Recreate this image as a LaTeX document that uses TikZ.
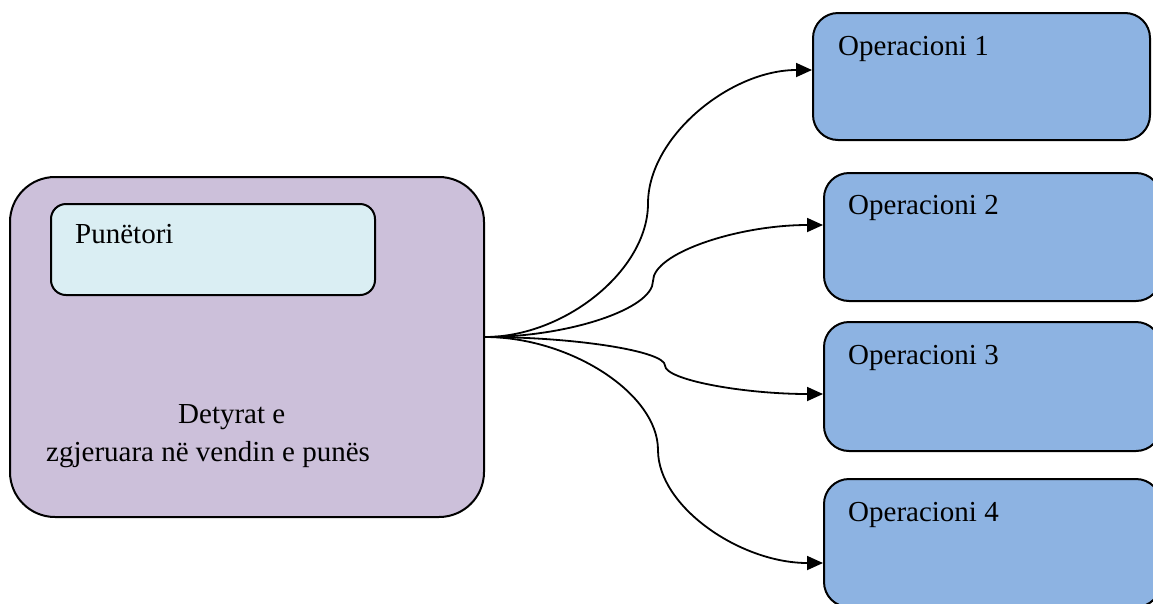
\documentclass[tikz,border=0pt]{standalone}
\usepackage{fontspec}
\setmainfont{Liberation Serif}
\usetikzlibrary{arrows.meta,calc}

\definecolor{taskfill}{HTML}{CCC0DA}
\definecolor{workerfill}{HTML}{DAEEF3}
\definecolor{opfill}{HTML}{8DB3E2}

\tikzset{
  box/.style={draw=black, line width=2pt, rounded corners=#1, inner sep=0pt, anchor=north west},
  taskbox/.style={box=45pt, fill=taskfill, minimum width=474pt, minimum height=340pt},
  workerbox/.style={box=15pt, fill=workerfill, minimum width=324pt, minimum height=91pt},
  opbox/.style={box=25pt, fill=opfill, minimum width=337pt, minimum height=128pt},
  txt/.style={anchor=base west, inner sep=0pt, font=\fontsize{29}{35}\selectfont},
  conn/.style={draw=black, line width=1.8pt, -{Triangle[length=16pt,width=14pt]}}
}

\begin{document}
\begin{tikzpicture}[x=1pt, y=-1pt]
  \useasboundingbox (0,0) rectangle (1153,603);
  \clip (0,0) rectangle (1153,603);

  % left block: the worker inside the enlarged job
  \node[taskbox] (task) at (9,176) {};
  \node[workerbox] (worker) at (50,203) {};
  \node[txt] (workerlbl) at (75,243) {Punëtori};
  \node[txt] (tasklbl1) at (178,423) {Detyrat e};
  \node[txt] (tasklbl2) at (46,461) {zgjeruara në vendin e punës};

  % operations
  \node[opbox, minimum height=127pt] (op1) at (812,12) {};
  \node[opbox] (op2) at (823,172) {};
  \node[opbox, minimum height=129pt] (op3) at (823,321) {};
  \node[opbox] (op4) at (823,478) {};
  \node[txt] (op1lbl) at (838,55) {Operacioni 1};
  \node[txt] (op2lbl) at (848,214) {Operacioni 2};
  \node[txt] (op3lbl) at (848,364) {Operacioni 3};
  \node[txt] (op4lbl) at (848,521) {Operacioni 4};

  % connector ends
  \coordinate (src) at ($(task.north east)+(0,161)$);
  \coordinate (t1) at ($(op1.north west)+(0,58)$);
  \coordinate (t2) at ($(op2.north west)+(0,53)$);
  \coordinate (t3) at ($(op3.north west)+(0,73)$);
  \coordinate (t4) at ($(op4.north west)+(0,85)$);

  % curved connectors
  \draw[conn] (src) .. controls (565,337) and (648,270) .. (648,203.5)
                    .. controls (648,137) and (730,70) .. (t1);
  \draw[conn] (src) .. controls (568,337) and (653,309) .. (653,281)
                    .. controls (653,253) and (738,225) .. (t2);
  \draw[conn] (src) .. controls (574,337) and (665,351) .. (665,365.5)
                    .. controls (665,380) and (744,394) .. (t3);
  \draw[conn] (src) .. controls (570,337) and (658,393.5) .. (658,450)
                    .. controls (658,506.5) and (740,563) .. (t4);
\end{tikzpicture}
\end{document}
